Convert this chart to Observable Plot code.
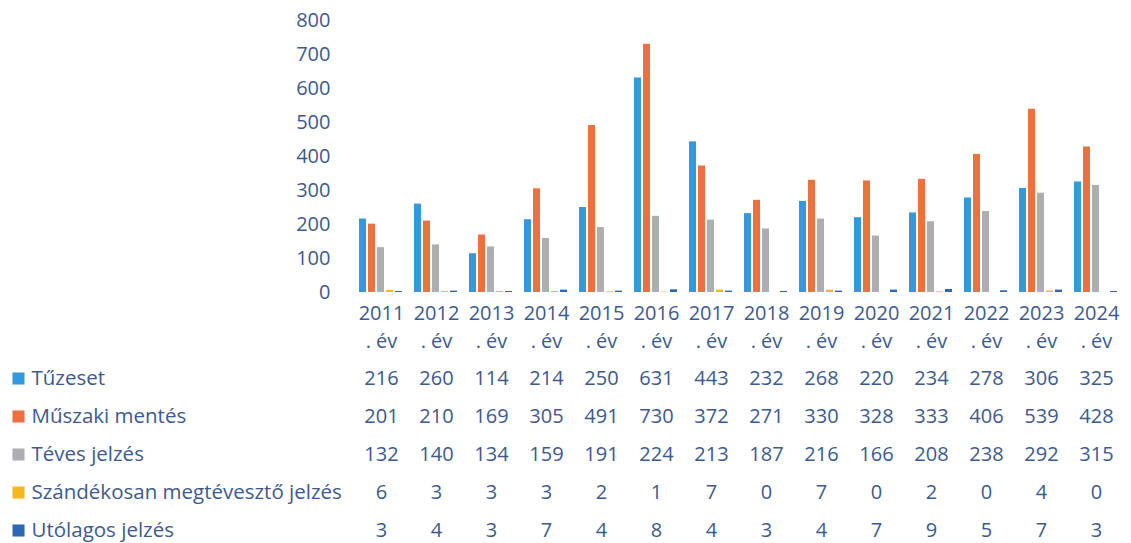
<!DOCTYPE html>
<html>
<head>
<meta charset="utf-8">
<script src="https://cdn.jsdelivr.net/npm/d3@7"></script>
<script src="https://cdn.jsdelivr.net/npm/@observablehq/plot@0.6"></script>
<style>
  html, body { margin: 0; padding: 0; background: #fff; }
  #chart { width: 1131px; }
  #chart svg { display: block; }
</style>
</head>
<body>
<div id="chart"></div>
<script>
const years = ["2011","2012","2013","2014","2015","2016","2017","2018","2019","2020","2021","2022","2023","2024"];
const series = ["Tűzeset","Műszaki mentés","Téves jelzés","Szándékosan megtévesztő jelzés","Utólagos jelzés"];
const tuzeset   = [216,260,114,214,250,631,443,232,268,220,234,278,306,325];
const muszaki   = [201,210,169,305,491,730,372,271,330,328,333,406,539,428];
const teves     = [132,140,134,159,191,224,213,187,216,166,208,238,292,315];
const szandekos = [6,3,3,3,2,1,7,0,7,0,2,0,4,0];
const utolagos  = [3,4,3,7,4,8,4,3,4,7,9,5,7,3];
const yTicks = [0,100,200,300,400,500,600,700,800];
const yearSuffix = ". év";
const colors = ["#3498dc","#ec7140","#aeaeb2","#f4b71e","#2b68b4"];
const textColor = "#3d5a8c";

const seriesValues = [tuzeset, muszaki, teves, szandekos, utolagos];
const data = series.flatMap((s, i) => years.map((y, j) => ({series: s, year: y, value: seriesValues[i][j]})));

const font = "'Open Sans', Lato, sans-serif";

const chart = Plot.plot({
  width: 1131,
  height: 355,
  marginLeft: 350,
  marginRight: 5,
  marginTop: 20,
  marginBottom: 63,
  style: {fontFamily: font, fontSize: "20px", color: textColor, background: "#fff"},
  fx: {domain: years, padding: 0.1},
  x: {domain: series, padding: 0.2, axis: null},
  y: {domain: [0, 800], label: null},
  color: {domain: series, range: colors},
  marks: [
    Plot.axisY({ticks: yTicks, tickSize: 0, tickPadding: 26, label: null, fill: textColor, fontSize: 20}),
    Plot.axisFx({anchor: "bottom", tickSize: 0, tickPadding: 8, label: null, fill: textColor, fontSize: 20,
                 lineHeight: 1.4, tickFormat: d => d + "\n" + yearSuffix}),
    Plot.barY(data, {fx: "year", x: "series", y: "value", fill: "series"})
  ]
});

const table = Plot.plot({
  width: 1131,
  height: 188,
  marginLeft: 350,
  marginRight: 5,
  marginTop: 0,
  marginBottom: 0,
  style: {fontFamily: font, fontSize: "20px", color: textColor, background: "#fff"},
  x: {type: "band", domain: years, padding: 0.1, axis: null},
  y: {type: "point", domain: series, range: [23, 175], padding: 0, axis: null},
  color: {domain: series, range: colors},
  marks: [
    Plot.text(data, {x: "year", y: "series", text: d => String(d.value), fill: textColor}),
    Plot.dot(series, {y: d => d, frameAnchor: "left", dx: -332, symbol: "square", r: 6.8, fill: d => d}),
    Plot.text(series, {y: d => d, frameAnchor: "left", dx: -319, textAnchor: "start", text: d => d, fill: textColor, fontSize: 20.5})
  ]
});

document.getElementById("chart").append(chart, table);
</script>
</body>
</html>
